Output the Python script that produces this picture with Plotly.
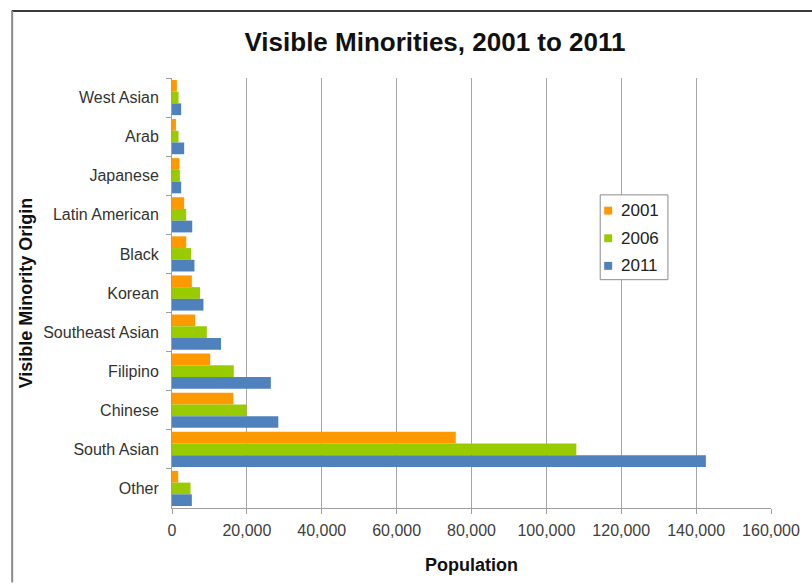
import plotly.graph_objects as go

# Visible minority groups, listed top to bottom
categories = ["West Asian", "Arab", "Japanese", "Latin American", "Black", "Korean",
              "Southeast Asian", "Filipino", "Chinese", "South Asian", "Other"]
pop_2001 = [1300, 1050, 2000, 3250, 3800, 5300, 6200, 10200, 16400, 75800, 1650]
pop_2006 = [1750, 1750, 2100, 3800, 5100, 7500, 9300, 16500, 19900, 108000, 4950]
pop_2011 = [2450, 3250, 2450, 5400, 6000, 8400, 13100, 26400, 28400, 142600, 5300]

x_ticks = [0, 20000, 40000, 60000, 80000, 100000, 120000, 140000, 160000]

series = [("2001", pop_2001, "#FF9900"),
          ("2006", pop_2006, "#99CC00"),
          ("2011", pop_2011, "#4F81BD")]

fig = go.Figure()
for name, vals, col in series:
    fig.add_trace(go.Bar(
        name=name, y=categories, x=vals, orientation="h",
        marker=dict(color=col, line=dict(width=0)),
        showlegend=False,
    ))

W, H = 812, 584
L, R, T, B = 172, 38.5, 77.5, 70.5
pw, ph = W - L - R, H - T - B


def px_x(x):
    return (x - L) / pw


def px_y(y):
    return (H - B - y) / ph


font = "Liberation Sans, Arial, sans-serif"

# Chart frame (top and left edges)
shapes = [
    dict(type="line", xref="paper", yref="paper",
         x0=px_x(11), x1=px_x(W + 5), y0=px_y(9.5), y1=px_y(9.5),
         line=dict(color="#3a3a3a", width=2)),
    dict(type="line", xref="paper", yref="paper",
         x0=px_x(11.5), x1=px_x(11.5), y0=px_y(9.5), y1=px_y(H + 5),
         line=dict(color="#8a8a8a", width=2)),
]
annotations = []

# Legend box with compact square swatches
lg_left, lg_right, lg_top, lg_bottom = 602, 670, 196, 282
shapes.append(dict(type="rect", xref="paper", yref="paper",
                   x0=px_x(lg_left), x1=px_x(lg_right),
                   y0=px_y(lg_bottom), y1=px_y(lg_top),
                   fillcolor="white", line=dict(color="#8c8c8c", width=1),
                   layer="above"))
for i, (name, _, col) in enumerate(series):
    cy = 212 + 28 * i
    shapes.append(dict(type="rect", xref="paper", yref="paper",
                       x0=px_x(606), x1=px_x(614),
                       y0=px_y(cy + 4), y1=px_y(cy - 4),
                       fillcolor=col, line=dict(width=0), layer="above"))
    annotations.append(dict(text=name, xref="paper", yref="paper",
                            x=px_x(621), y=px_y(cy), xanchor="left",
                            yanchor="middle", showarrow=False,
                            font=dict(family=font, size=17, color="#222222")))

fig.update_layout(
    width=W, height=H,
    margin=dict(l=L, r=R, t=T, b=B, pad=0),
    paper_bgcolor="white", plot_bgcolor="white",
    barmode="group", bargap=0.1, bargroupgap=0,
    font=dict(family=font, size=15, color="#404040"),
    title=dict(text="<b>Visible Minorities, 2001 to 2011</b>",
               x=435 / W, xref="container", xanchor="center",
               y=1 - 42 / H, yref="container", yanchor="middle",
               font=dict(family=font, size=26, color="#111111")),
    showlegend=False,
    xaxis=dict(range=[0, 160000], tickvals=x_ticks, tickformat=",d",
               showgrid=True, gridcolor="#a6a6a6", gridwidth=1,
               showline=True, linecolor="#a0a0a0", linewidth=1,
               ticks="outside", ticklen=5, tickcolor="#a0a0a0",
               zeroline=False, ticklabelstandoff=3,
               tickfont=dict(family=font, size=16, color="#404040"),
               title=dict(text="<b>Population</b>", standoff=20,
                          font=dict(family=font, size=18, color="#111111"))),
    yaxis=dict(autorange="reversed", showgrid=False,
               showline=True, linecolor="#a0a0a0", linewidth=1,
               ticks="outside", ticklen=5, tickcolor="#a0a0a0",
               tickson="boundaries", ticklabelstandoff=9,
               tickfont=dict(family=font, size=16, color="#333333"),
               title=dict(text="<b>Visible Minority Origin</b>", standoff=5,
                          font=dict(family=font, size=18, color="#111111"))),
    shapes=shapes,
    annotations=annotations,
)

fig.write_html("out.html")
